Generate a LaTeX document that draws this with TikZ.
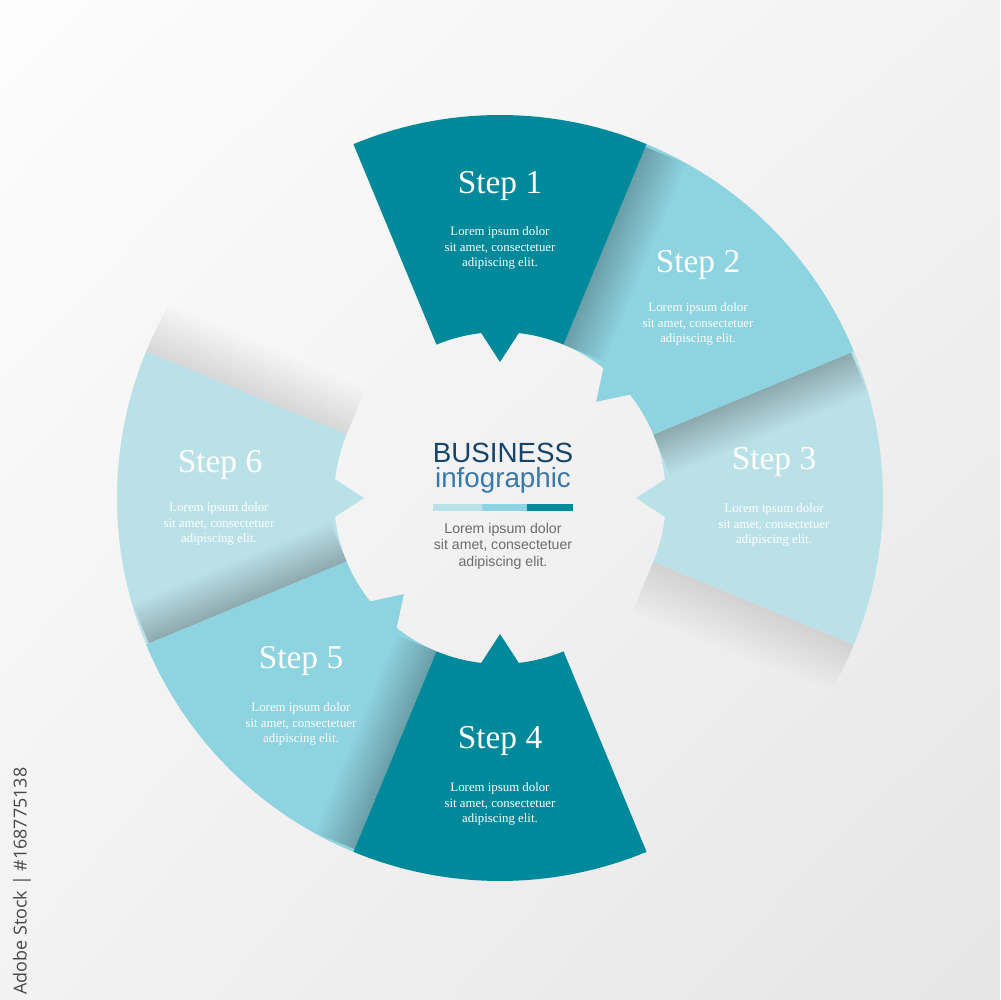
\documentclass[tikz,border=0pt]{standalone}
\usepackage{fontspec}
\setmainfont{Liberation Serif}
\newfontfamily\headfont{Liberation Sans}
\newfontfamily\idfont{Open Sans}
\usepackage{tikz}
\usetikzlibrary{shadings}

\definecolor{stepdark}{RGB}{0,137,155}
\definecolor{stepmid}{RGB}{142,211,224}
\definecolor{steplight}{RGB}{187,225,232}
\definecolor{navy}{RGB}{21,68,104}
\definecolor{infoblue}{RGB}{58,120,168}
\definecolor{loremgray}{RGB}{108,108,108}

\begin{document}
\begin{tikzpicture}[x=0.02cm,y=0.02cm,
    piece/.style={insert path={([shift={(c)}]{#1-22.5}:383)
        arc[start angle=#1-22.5, end angle=#1+22.5, radius=383]
        -- ([shift={(c)}]{#1+22.5}:166)
        arc[start angle=#1+22.5, end angle=#1+6.5, radius=166]
        -- ([shift={(c)}]{#1}:136) -- ([shift={(c)}]{#1-6.5}:166)
        arc[start angle=#1-6.5, end angle=#1-22.5, radius=166] -- cycle}},
    shadowband/.style={transform canvas={shift={(c)}, rotate=#1}},
    steptitle/.style={text=white, inner sep=0pt, anchor=base, font=\fontsize{19}{21}\selectfont},
    steptext/.style={text=white, inner sep=0pt, align=center, font=\fontsize{7.3}{8.8}\selectfont}]
  \useasboundingbox (0,0) rectangle (1000,1000);
  \shade[upper left=black!1, upper right=black!5, lower left=black!5, lower right=black!10] (0,0) rectangle (1000,1000);
  \coordinate (c) at (500,502);

  % shadows the two outer pieces throw on the background
  \begin{scope}
    \clip (c) circle[radius=383];
    \shade[shadowband=-22.5, top color=black!18, bottom color=black!7] (166,0) rectangle (383,-55);
    \shade[shadowband=157.5, top color=black!16, bottom color=black!3] (166,0) rectangle (383,-55);
  \end{scope}

  % right half: step 3 lies under 2, step 2 under 1
  \fill[steplight, piece=0];
  \shade[shadowband=22.5, top color=steplight!75!black, bottom color=steplight] (166,0) rectangle (380,-45);
  \fill[stepmid, piece=45];
  \shade[shadowband=67.5, top color=stepmid!75!black, bottom color=stepmid] (166,0) rectangle (380,-45);
  \fill[stepdark, piece=90];

  % left half: step 6 under 5, step 5 under 4
  \fill[steplight, piece=180];
  \shade[shadowband=202.5, top color=steplight!75!black, bottom color=steplight] (166,0) rectangle (380,-45);
  \fill[stepmid, piece=225];
  \shade[shadowband=247.5, top color=stepmid!75!black, bottom color=stepmid] (166,0) rectangle (380,-45);
  \fill[stepdark, piece=270];

  \node[steptitle] (step1) at (500,806) {Step 1};
  \node[steptext] (step1txt) at (500,752) {Lorem ipsum dolor\\sit amet, consectetuer\\adipiscing elit.};
  \node[steptitle] (step2) at (698,727) {Step 2};
  \node[steptext] (step2txt) at (698,676) {Lorem ipsum dolor\\sit amet, consectetuer\\adipiscing elit.};
  \node[steptitle] (step3) at (774,530) {Step 3};
  \node[steptext] (step3txt) at (774,475) {Lorem ipsum dolor\\sit amet, consectetuer\\adipiscing elit.};
  \node[steptitle] (step4) at (500,251) {Step 4};
  \node[steptext] (step4txt) at (500,196) {Lorem ipsum dolor\\sit amet, consectetuer\\adipiscing elit.};
  \node[steptitle] (step5) at (301,331) {Step 5};
  \node[steptext] (step5txt) at (301,276) {Lorem ipsum dolor\\sit amet, consectetuer\\adipiscing elit.};
  \node[steptitle] (step6) at (220,527) {Step 6};
  \node[steptext] (step6txt) at (219,476) {Lorem ipsum dolor\\sit amet, consectetuer\\adipiscing elit.};

  % centre
  \node[anchor=base, inner sep=0pt, text=navy, font=\headfont\fontsize{15.8}{18}\selectfont] (business) at (503,537) {BUSINESS};
  \node[anchor=base, inner sep=0pt, text=infoblue, font=\headfont\fontsize{15.8}{18}\selectfont] (infographic) at (503,512) {infographic};
  \fill[steplight] (433,489) rectangle (482,496);
  \fill[stepmid] (482,489) rectangle (527,496);
  \fill[stepdark] (527,489) rectangle (573,496);
  \node[inner sep=0pt, align=center, text=loremgray, font=\headfont\fontsize{8.05}{9.35}\selectfont] (centretxt) at (503,454) {Lorem ipsum dolor\\sit amet, consectetuer\\adipiscing elit.};

  \node[rotate=90, inner sep=0pt, text=black!72, font=\idfont\fontsize{10.2}{12}\selectfont] (stockid) at (22,119) {Adobe Stock | \#168775138};
\end{tikzpicture}
\end{document}
